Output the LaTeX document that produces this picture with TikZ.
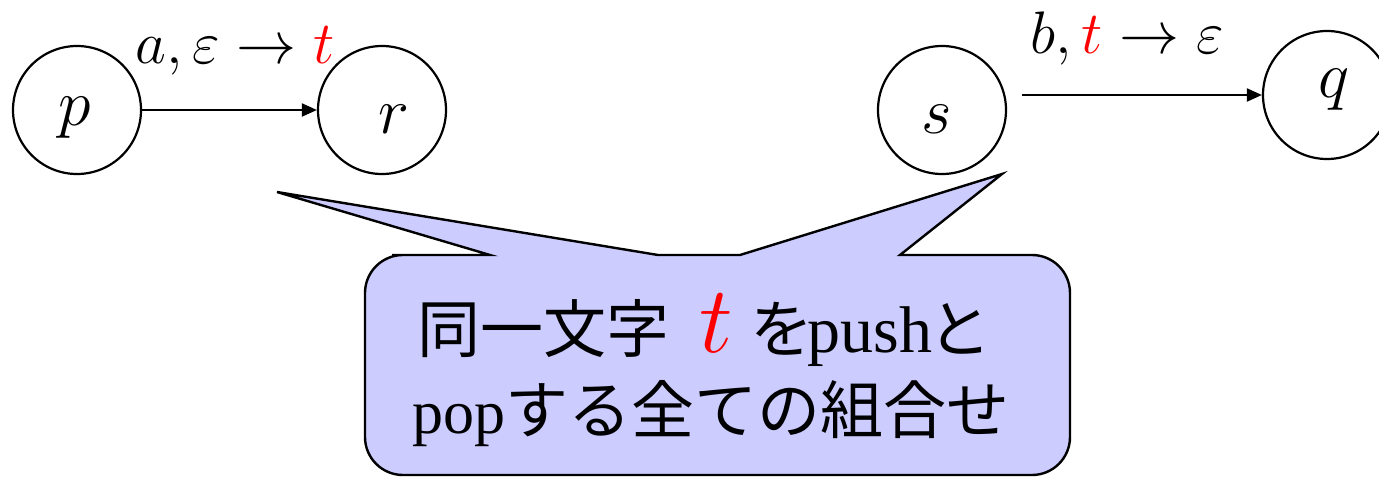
\RequirePackage{fix-cm}
\documentclass[tikz,border=0pt]{standalone}
\usepackage{fontspec}
\usepackage{xcolor}
\newfontfamily\cjk{Noto Sans CJK JP}
\newfontfamily\lat{Liberation Serif}
\usetikzlibrary{arrows.meta}
\definecolor{callfill}{HTML}{CCCCFF}
\tikzset{
  state/.style={circle,draw=black,line width=2.2pt,minimum size=128pt,inner sep=0pt},
  statelbl/.style={anchor=base,inner sep=0pt,font=\fontsize{66}{66}\selectfont},
  edgelbl/.style={anchor=base west,inner sep=0pt,font=\fontsize{60}{60}\selectfont},
  arr/.style={line width=2pt,-{Triangle[length=15pt,width=13pt]}},
  callout/.style={draw=black,fill=callfill,line width=2.4pt,line join=miter},
  calltext/.style={anchor=base west,inner sep=0pt},
}
\newcommand{\cjksz}{\fontsize{63}{63}\selectfont}
\newcommand{\latsz}{\fontsize{62}{62}\selectfont}
\begin{document}
\begin{tikzpicture}[x=1pt,y=-1pt]
\useasboundingbox (0,0) rectangle (1379,477);
\clip (0,0) rectangle (1379,477);
% callout
\draw[callout] (490,255) -- (277,192) -- (658,255) -- (740,255) -- (1002,174) -- (900,255) -- (950,255)
  {[rounded corners=38pt] -- (1070,255) -- (1070,475) -- (365,475) -- (365,255) -- (430,255)} -- cycle;
\node[calltext] (line1) at (417,352) {\cjk\cjksz 同一文字\hspace{30pt}\textcolor{red}{\fontsize{95}{95}\selectfont$t$}\hspace{18pt}を\hspace{-6pt}{\lat\fontsize{66}{66}\selectfont push}\hspace{-4pt}と};
\node[calltext] (line2) at (412,433) {{\lat\latsz pop}\cjk\cjksz する全ての組合せ};
% states
\node[state] (p) at (77,110) {};
\node[state] (r) at (382,110) {};
\node[state] (s) at (942,110) {};
\node[state] (q) at (1327,95) {};
\node[statelbl] (pl) at (75,125) {$p$};
\node[statelbl] (rl) at (394,133) {$r$};
\node[statelbl] (sl) at (937,133) {$s$};
\node[statelbl] (ql) at (1334,97) {$q$};
% edges
\draw[arr] (p) -- (r);
\coordinate (sq) at (1022,95);
\draw[arr] (sq) -- (q);
\node[edgelbl] (lab1) at (135,63) {$a,\varepsilon\rightarrow\textcolor{red}{t}$};
\node[edgelbl] (lab2) at (1030,53) {$b,\textcolor{red}{t}\rightarrow\varepsilon$};
\end{tikzpicture}
\end{document}
